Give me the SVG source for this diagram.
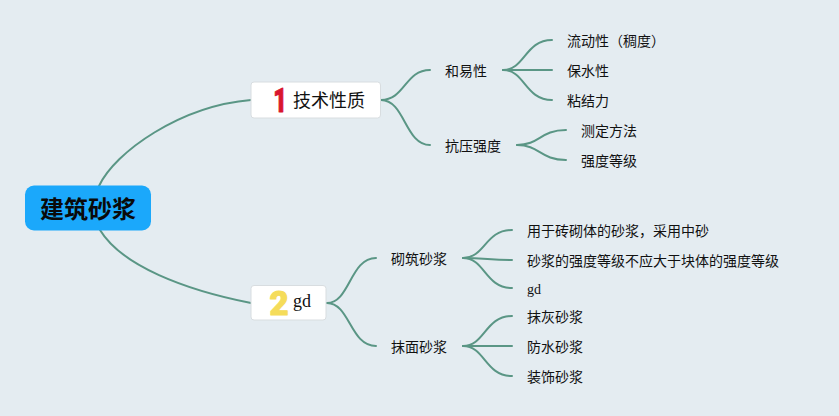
<svg xmlns="http://www.w3.org/2000/svg" width="839" height="416" viewBox="0 0 839 416">
<style>
text{font-family:"Liberation Serif","Noto Sans CJK SC",serif;font-size:14px;fill:#111;dominant-baseline:alphabetic}
.z{font-family:"Noto Sans CJK SC","Liberation Sans",sans-serif}
.l{fill:none;stroke:#5a9685;stroke-width:2;stroke-linecap:round}
.c{fill:#fff;stroke:#d8dde0;stroke-width:1}
.m{font-family:"Roboto","Liberation Sans",sans-serif;font-weight:900;font-size:33px;stroke-width:1;stroke-linejoin:round}
</style>
<rect width="839" height="416" fill="#e4ecf1"/>
<g id="connectors" class="l">
<path d="M99 186C115 152 180 106 251 100"/>
<path d="M100 230C122 266 185 290 251 303"/>
<path d="M381 100C405 100 405 70 430 70"/>
<path d="M381 100C405 100 405 145 430 145"/>
<path d="M503 70C525 70 525 40 552 40"/>
<path d="M503 70H552"/>
<path d="M503 70C525 70 525 100 552 100"/>
<path d="M517 145C540 145 540 130 566 130"/>
<path d="M517 145C540 145 540 160 566 160"/>
<path d="M327 303C350 303 350 258 376 258"/>
<path d="M327 303C350 303 350 346 376 346"/>
<path d="M463 258C485 258 485 230 512 230"/>
<path d="M463 258C485 258 490 260 512 260"/>
<path d="M463 258C485 258 485 288 512 288"/>
<path d="M463 346C485 346 485 316 512 316"/>
<path d="M463 346H512"/>
<path d="M463 346C485 346 485 376 512 376"/>
</g>
<g id="root"><rect x="25" y="185.500" width="126" height="45" rx="9" fill="#1ba8fb"/><text class="z" x="88" y="218" text-anchor="middle" font-weight="700" style="font-size:24px;fill:#0a0a0a">建筑砂浆</text></g>
<g id="n1"><rect class="c" x="251" y="82" width="129.500" height="36" rx="3"/><text class="m" transform="translate(273.300 112) scale(.72 1)" style="fill:#d9152f;stroke:#d9152f">1</text><text class="z" x="293" y="107" style="font-size:18px">技术性质</text></g>
<g id="n2"><rect class="c" x="251" y="285.500" width="75" height="34.500" rx="3"/><text class="m" x="269.500" y="315" style="fill:#f5dc5a;stroke:#f5dc5a">2</text><text x="293" y="307" style="font-size:18px">gd</text></g>
<g id="a1"><text class="z" x="445" y="76">和易性</text></g>
<g id="a2"><text class="z" x="445" y="151">抗压强度</text></g>
<g id="a11"><text class="z" x="567" y="46">流动性（稠度）</text></g>
<g id="a12"><text class="z" x="567" y="76">保水性</text></g>
<g id="a13"><text class="z" x="567" y="106">粘结力</text></g>
<g id="a21"><text class="z" x="581" y="136">测定方法</text></g>
<g id="a22"><text class="z" x="581" y="166">强度等级</text></g>
<g id="b1"><text class="z" x="391" y="264">砌筑砂浆</text></g>
<g id="b2"><text class="z" x="391" y="352">抹面砂浆</text></g>
<g id="b11"><text class="z" x="527" y="236">用于砖砌体的砂浆，采用中砂</text></g>
<g id="b12"><text class="z" x="527" y="266">砂浆的强度等级不应大于块体的强度等级</text></g>
<g id="b13"><text x="527" y="294">gd</text></g>
<g id="b21"><text class="z" x="527" y="322">抹灰砂浆</text></g>
<g id="b22"><text class="z" x="527" y="352">防水砂浆</text></g>
<g id="b23"><text class="z" x="527" y="382">装饰砂浆</text></g>
</svg>
